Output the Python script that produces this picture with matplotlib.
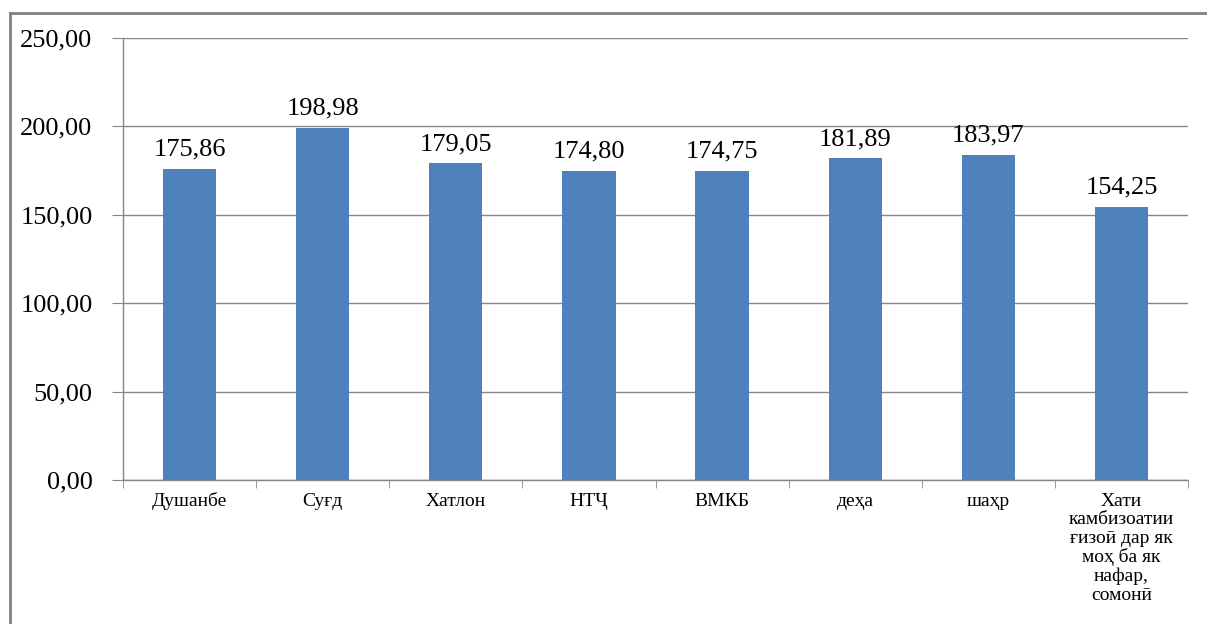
import matplotlib
matplotlib.use("Agg")
import matplotlib.pyplot as plt
from matplotlib.lines import Line2D
from matplotlib.ticker import FixedLocator, FuncFormatter
import numpy as np

categories = ["Душанбе", "Суғд", "Хатлон", "НТҶ", "ВМКБ", "деҳа", "шаҳр",
              "Хати\nкамбизоатии\nғизоӣ дар як\nмоҳ ба як\nнафар,\nсомонӣ"]
values = [175.86, 198.98, 179.05, 174.80, 174.75, 181.89, 183.97, 154.25]
yticks = [0, 50, 100, 150, 200, 250]

plt.rcParams['font.family'] = ['Liberation Serif', 'DejaVu Serif']

fig = plt.figure(figsize=(12.07, 6.24), dpi=100)
ax = fig.add_axes([123/1207, 1-480/624, (1188-123)/1207, (480-38)/624])

x = np.arange(len(categories))
bars = ax.bar(x, values, width=0.4, color="#4F81BD", zorder=3)

def fmt(v):
    return f"{v:.2f}".replace(".", ",")

for xi, v in zip(x, values):
    ax.annotate(fmt(v), (xi, v), xytext=(0, 6), textcoords="offset points",
                ha="center", va="bottom", fontsize=19, color="black")

ax.set_xlim(-0.5, len(categories) - 0.5)
ax.set_ylim(0, 250)
ax.set_yticks(yticks)
ax.yaxis.set_major_formatter(FuncFormatter(lambda v, p: fmt(v)))
ax.tick_params(axis="y", labelsize=19, length=8, color="#868686", pad=14, direction="out")
ax.grid(axis="y", color="#868686", linewidth=1, zorder=0)

ax.set_xticks(x)
ax.set_xticklabels(categories, fontsize=14, va="top", linespacing=1.12)
ax.tick_params(axis="x", which="major", length=0, pad=9)
ax.xaxis.set_minor_locator(FixedLocator(np.arange(-0.5, len(categories), 1.0)))
ax.tick_params(axis="x", which="minor", length=6, color="#868686", direction="out")

for s in ["top", "right"]:
    ax.spines[s].set_visible(False)
for s in ["left", "bottom"]:
    ax.spines[s].set_color("#868686")
    ax.spines[s].set_linewidth(1)

# outer frame (top and left visible)
fig.add_artist(Line2D([10/1207, 10/1207], [0, 1-13/624], transform=fig.transFigure,
                      color="#808080", linewidth=2))
fig.add_artist(Line2D([10/1207, 1], [1-13/624, 1-13/624], transform=fig.transFigure,
                      color="#808080", linewidth=2))

fig.savefig("out.png", dpi=100)
